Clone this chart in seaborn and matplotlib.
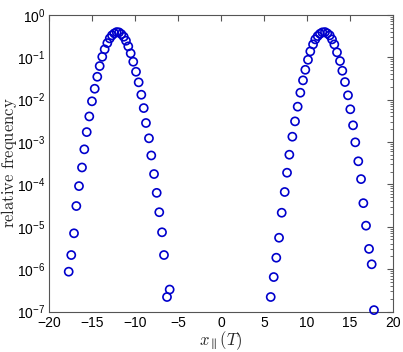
import numpy as np
import pandas as pd
import seaborn as sns
import matplotlib.pyplot as plt
from matplotlib.ticker import LogLocator, FixedLocator

# values
x_left = [-17.74, -17.44, -17.12, -16.85, -16.54, -16.19, -15.92, -15.64, -15.34, -15.03,
          -14.71, -14.41, -14.13, -13.83, -13.55, -13.24, -12.96, -12.70, -12.43, -12.15,
          -11.88, -11.61, -11.33, -11.07, -10.80, -10.52, -10.22, -9.90, -9.59, -9.28,
          -9.00, -8.74, -8.39, -8.12, -7.80, -7.49, -7.19, -6.87, -6.64, -6.29, -5.98]
y_left = [8.7e-7, 2.15e-6, 7.0e-6, 3.08e-5, 9.1e-5, 2.5e-4, 6.7e-4, 1.71e-3, 4.0e-3, 9.1e-3,
          0.018, 0.0345, 0.0617, 0.102, 0.153, 0.215, 0.277, 0.327, 0.364, 0.391,
          0.385, 0.35, 0.303, 0.244, 0.18, 0.123, 0.078, 0.0453, 0.0255, 0.013,
          6.3e-3, 2.8e-3, 1.22e-3, 4.8e-4, 1.75e-4, 6.3e-5, 2.2e-5, 7.4e-6, 2.15e-6, 2.2e-7, 3.3e-7]

x_right = [5.79, 6.14, 6.44, 6.76, 7.07, 7.42, 7.69, 7.96, 8.31, 8.62,
           8.93, 9.24, 9.55, 9.82, 10.13, 10.40, 10.72, 10.98, 11.26, 11.53,
           11.80, 12.11, 12.38, 12.66, 12.93, 13.20, 13.51, 13.86, 14.13, 14.44,
           14.79, 15.06, 15.38, 15.64, 15.99, 16.31, 16.58, 16.89, 17.24, 17.55, 17.82]
y_right = [2.2e-7, 6.5e-7, 1.86e-6, 5.5e-6, 2.14e-5, 6.6e-5, 1.88e-4, 5.0e-4, 1.33e-3, 3.06e-3,
           6.8e-3, 0.0145, 0.0284, 0.0504, 0.0868, 0.137, 0.2, 0.263, 0.315, 0.356,
           0.385, 0.391, 0.364, 0.327, 0.263, 0.2, 0.13, 0.081, 0.0478, 0.0259,
           0.0126, 5.9e-3, 2.47e-3, 9.8e-4, 3.5e-4, 1.33e-4, 3.6e-5, 1.06e-5, 3.0e-6, 1.3e-6, 1.08e-7]

x_ticks = [-20, -15, -10, -5, 0, 5, 10, 15, 20]
x_ticklabels = ['\u221220', '\u221215', '\u221210', '\u22125', '0', '5', '10', '15', '20']
y_decades = [-7, -6, -5, -4, -3, -2, -1, 0]

data = pd.DataFrame({'x': x_left + x_right, 'freq': y_left + y_right})

sns.set_style("white")
plt.rcParams['font.family'] = ['Liberation Sans', 'DejaVu Sans']
# tick labels in a Helvetica-like face, axis labels in Computer Modern
plt.rcParams['mathtext.fontset'] = 'custom'
plt.rcParams['mathtext.rm'] = 'Liberation Sans'
plt.rcParams['mathtext.it'] = 'Liberation Sans:italic'
plt.rcParams['mathtext.bf'] = 'Liberation Sans:bold'

fig = plt.figure(figsize=(4.03, 3.52), dpi=100)
ax = fig.add_axes([0.1223, 0.115, 0.8522, 0.843])

sns.scatterplot(data=data, x='x', y='freq', ax=ax, marker='o', s=34,
                facecolor='none', edgecolor='#0000cc', linewidth=1.2,
                clip_on=False, zorder=3)

ax.set_yscale('log')
ax.set_xlim(-20, 20)
ax.set_ylim(1e-7, 1)
ax.xaxis.set_major_locator(FixedLocator(x_ticks))
ax.set_xticklabels(x_ticklabels)
ax.yaxis.set_major_locator(FixedLocator([10.0 ** d for d in y_decades]))
ax.yaxis.set_minor_locator(LogLocator(base=10, subs=np.arange(2, 10), numticks=20))
ax.set_yticklabels([r'$\mathregular{10^{%d}}$' % d for d in y_decades])

for side in ['left', 'right', 'top', 'bottom']:
    ax.spines[side].set_color('#555555')
    ax.spines[side].set_linewidth(0.8)
ax.tick_params(which='both', direction='in', top=True, right=True,
               colors='#555555', labelcolor='black', labelsize=10)
ax.tick_params(which='major', length=4, pad=3)
ax.tick_params(which='minor', length=2)

ax.set_ylabel(r'$\mathrm{relative\ frequency}$', fontsize=12, math_fontfamily='cm')
ax.yaxis.set_label_coords(-0.088, 0.5)
ax.set_xlabel(r'$x_{\parallel}(T)$', fontsize=12, math_fontfamily='cm', labelpad=0)

plt.savefig('out.png', dpi=100)
